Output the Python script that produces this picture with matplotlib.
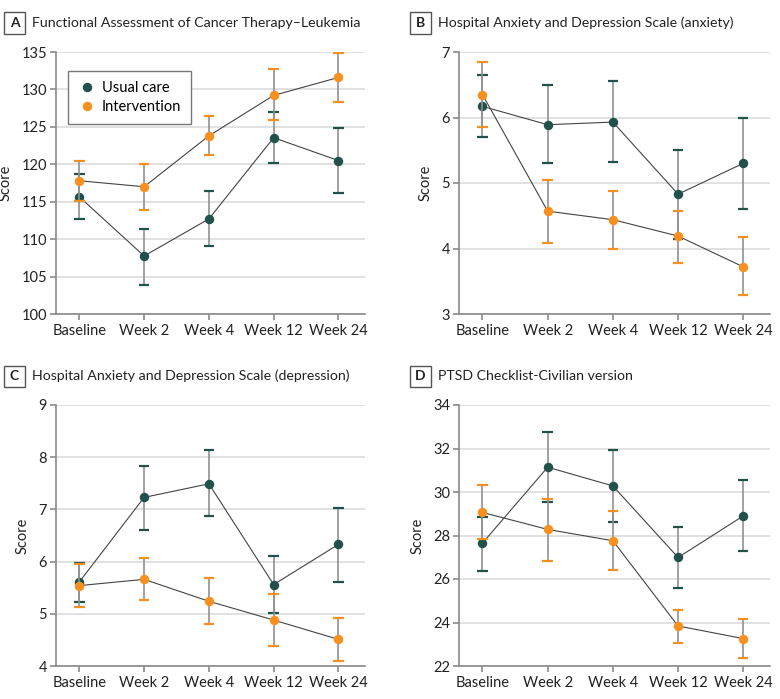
import matplotlib
matplotlib.use("Agg")
import matplotlib.pyplot as plt
from matplotlib.patches import Rectangle

plt.rcParams['font.family'] = ['Lato', 'DejaVu Sans']

timepoints = ["Baseline", "Week 2", "Week 4", "Week 12", "Week 24"]

# A: FACT-Leukemia
a_usual = [115.65, 107.75, 112.7, 123.55, 120.5]
a_usual_hi = [118.7, 111.4, 116.4, 127.05, 124.8]
a_usual_lo = [112.7, 103.9, 109.05, 120.15, 116.2]
a_int = [117.8, 117.0, 123.8, 129.2, 131.6]
a_int_hi = [120.4, 120.1, 126.4, 132.7, 134.9]
a_int_lo = [115.15, 113.9, 121.2, 125.85, 128.3]

# B: HADS anxiety
b_usual = [6.17, 5.89, 5.93, 4.83, 5.30]
b_usual_hi = [6.65, 6.49, 6.55, 5.51, 5.99]
b_usual_lo = [5.70, 5.31, 5.32, 4.15, 4.61]
b_int = [6.35, 4.57, 4.44, 4.19, 3.72]
b_int_hi = [6.85, 5.05, 4.88, 4.57, 4.17]
b_int_lo = [5.86, 4.09, 4.00, 3.78, 3.29]

# C: HADS depression
c_usual = [5.61, 7.23, 7.49, 5.56, 6.33]
c_usual_hi = [5.98, 7.84, 8.13, 6.11, 7.03]
c_usual_lo = [5.23, 6.61, 6.88, 5.02, 5.61]
c_int = [5.54, 5.66, 5.24, 4.88, 4.51]
c_int_hi = [5.96, 6.07, 5.69, 5.38, 4.92]
c_int_lo = [5.13, 5.26, 4.80, 4.38, 4.10]

# D: PCL-C
d_usual = [27.65, 31.14, 30.28, 26.99, 28.90]
d_usual_hi = [28.83, 32.75, 31.95, 28.41, 30.53]
d_usual_lo = [26.38, 29.56, 28.64, 25.57, 27.27]
d_int = [29.06, 28.28, 27.76, 23.84, 23.26]
d_int_hi = [30.30, 29.70, 29.13, 24.59, 24.16]
d_int_lo = [27.82, 26.85, 26.41, 23.04, 22.35]

teal = '#22504b'
orange = '#f7901e'
bar_gray = '#919191'
axis_gray = '#8a8a8a'

fig = plt.figure(figsize=(7.8, 6.99), dpi=100)
W, H = 780, 699


def px_axes(left, top, right, bottom):
    return fig.add_axes([left / W, 1 - bottom / H, (right - left) / W, (bottom - top) / H])


def draw_series(ax, x, y, lo, hi, color, z):
    for xi, l, h in zip(x, lo, hi):
        ax.plot([xi, xi], [l, h], color=bar_gray, lw=1.2, zorder=z)
        ax.plot([xi - 0.08, xi + 0.08], [h, h], color=color, lw=1.6, zorder=z + 0.5, solid_capstyle='butt')
        ax.plot([xi - 0.08, xi + 0.08], [l, l], color=color, lw=1.6, zorder=z + 0.5, solid_capstyle='butt')
    ax.plot(x, y, color='#444444', lw=0.8, zorder=z + 1)
    ax.plot(x, y, 'o', color=color, markersize=6.8, markeredgewidth=0, zorder=z + 2)


def panel(ax, letter, title, usual, u_lo, u_hi, inter, i_lo, i_hi, ylim, yticks, box_x, text_x, title_y):
    x = list(range(len(timepoints)))
    draw_series(ax, x, usual, u_lo, u_hi, teal, 3)
    draw_series(ax, x, inter, i_lo, i_hi, orange, 6)
    ax.set_xlim(-0.36, 4.41)
    ax.set_ylim(*ylim)
    ax.set_yticks(yticks)
    ax.set_xticks(x)
    ax.set_xticklabels(timepoints)
    ax.yaxis.grid(True, color='#dcdcdc', lw=1.2)
    ax.set_axisbelow(True)
    for s in ['top', 'right']:
        ax.spines[s].set_visible(False)
    for s in ['left', 'bottom']:
        ax.spines[s].set_color(axis_gray)
        ax.spines[s].set_linewidth(1.2)
    ax.tick_params(axis='both', colors=axis_gray, labelcolor='#222222', labelsize=10.5, length=4, width=1.2)
    ax.tick_params(axis='y', pad=2.5)
    ax.set_ylabel("Score", fontsize=10.5, color='#222222', labelpad=6)
    # boxed panel letter and title
    fig.patches.append(Rectangle((box_x / W, 1 - (title_y + 10.5) / H), 21 / W, 21 / H,
                                 transform=fig.transFigure, fill=False, edgecolor='#555555', lw=1.0))
    fig.text((box_x + 10.5) / W, 1 - title_y / H, letter, ha='center', va='center',
             fontsize=10, fontweight='bold', color='#222222')
    fig.text(text_x / W, 1 - title_y / H, title, ha='left', va='center', fontsize=10.2, color='#222222')


ax_a = px_axes(56, 52, 365, 314)
panel(ax_a, "A", "Functional Assessment of Cancer Therapy\u2013Leukemia",
      a_usual, a_usual_lo, a_usual_hi, a_int, a_int_lo, a_int_hi,
      (100, 135), range(100, 136, 5), 4, 32, 23)

ax_b = px_axes(459, 52, 770, 314)
panel(ax_b, "B", "Hospital Anxiety and Depression Scale (anxiety)",
      b_usual, b_usual_lo, b_usual_hi, b_int, b_int_lo, b_int_hi,
      (3, 7), range(3, 8), 410, 438, 23)

ax_c = px_axes(56, 405, 365, 666)
panel(ax_c, "C", "Hospital Anxiety and Depression Scale (depression)",
      c_usual, c_usual_lo, c_usual_hi, c_int, c_int_lo, c_int_hi,
      (4, 9), range(4, 10), 4, 32, 376)

ax_d = px_axes(459, 405, 770, 666)
panel(ax_d, "D", "PTSD Checklist-Civilian version",
      d_usual, d_usual_lo, d_usual_hi, d_int, d_int_lo, d_int_hi,
      (22, 34), range(22, 35, 2), 410, 438, 376)

# legend in panel A
h1, = ax_a.plot([], [], 'o', color=teal, markersize=6.8, markeredgewidth=0, label='Usual care')
h2, = ax_a.plot([], [], 'o', color=orange, markersize=6.8, markeredgewidth=0, label='Intervention')
leg = ax_a.legend(handles=[h1, h2], loc='upper left', bbox_to_anchor=(0.039, 0.927), borderaxespad=0,
                  fancybox=False, framealpha=1, edgecolor='#777777', fontsize=10.5,
                  handletextpad=0.4, handlelength=1.2, borderpad=0.7, labelspacing=0.3)
leg.get_frame().set_linewidth(1.0)

fig.savefig("out.png", dpi=100)
